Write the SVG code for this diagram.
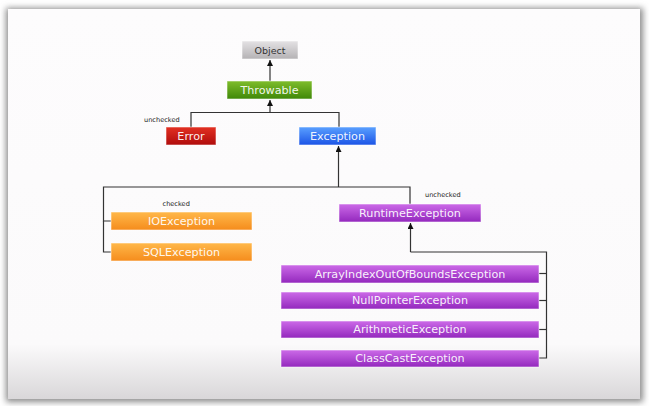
<svg xmlns="http://www.w3.org/2000/svg" width="649" height="406" viewBox="0 0 649 406">
  <defs>
    <linearGradient id="gCard" x1="0" y1="0" x2="0" y2="1">
      <stop offset="0" stop-color="#fdfcfd"/>
      <stop offset="0.86" stop-color="#fbfafb"/>
      <stop offset="1" stop-color="#d9d7d9"/>
    </linearGradient>
    <linearGradient id="gGrey" x1="0" y1="0" x2="0" y2="1">
      <stop offset="0" stop-color="#e4e2e4"/>
      <stop offset="1" stop-color="#b4b2b4"/>
    </linearGradient>
    <linearGradient id="gGreen" x1="0" y1="0" x2="0" y2="1">
      <stop offset="0" stop-color="#7fbd2c"/>
      <stop offset="1" stop-color="#3f8808"/>
    </linearGradient>
    <linearGradient id="gRed" x1="0" y1="0" x2="0" y2="1">
      <stop offset="0" stop-color="#e23022"/>
      <stop offset="1" stop-color="#b00c0c"/>
    </linearGradient>
    <linearGradient id="gBlue" x1="0" y1="0" x2="0" y2="1">
      <stop offset="0" stop-color="#5aa0ff"/>
      <stop offset="1" stop-color="#1c54e6"/>
    </linearGradient>
    <linearGradient id="gOrange" x1="0" y1="0" x2="0" y2="1">
      <stop offset="0" stop-color="#ffb84a"/>
      <stop offset="1" stop-color="#f58c1c"/>
    </linearGradient>
    <linearGradient id="gPurple" x1="0" y1="0" x2="0" y2="1">
      <stop offset="0" stop-color="#cc6ae8"/>
      <stop offset="1" stop-color="#9328bd"/>
    </linearGradient>
    <filter id="shadow" x="-5%" y="-5%" width="110%" height="110%">
      <feGaussianBlur stdDeviation="3"/>
    </filter>
    <marker id="arrow" viewBox="0 0 8 8" refX="8" refY="4" markerWidth="6" markerHeight="6" orient="auto" markerUnits="userSpaceOnUse">
      <path d="M0,0 L8,4 L0,8 z" fill="#111"/>
    </marker>
  </defs>
  <style>
    .box { stroke: #ffffff; stroke-opacity: 0.55; stroke-width: 1; }
    .lbl { font-family: "DejaVu Sans", Verdana, sans-serif; font-size: 11.2px; fill: #ffffff; fill-opacity: 0.93; text-anchor: middle; dominant-baseline: central; }
    .obj { font-family: "DejaVu Sans", Verdana, sans-serif; font-size: 9.5px; fill: #333333; text-anchor: middle; dominant-baseline: central; }
    .note { font-family: "DejaVu Sans", Verdana, sans-serif; font-size: 6.6px; fill: #222222; }
    .conn { fill: none; stroke: #333333; stroke-width: 1.2; }
  </style>

  <rect x="0" y="0" width="649" height="406" fill="#ffffff"/>
  <rect x="6" y="8" width="637" height="394" fill="#8a8a8a" filter="url(#shadow)"/>
  <rect x="8" y="9" width="632" height="390" fill="url(#gCard)"/>

  <g id="connectors">
    <path class="conn" d="M270,81 L270,60" marker-end="url(#arrow)"/>
    <path class="conn" d="M191,127 L191,112.5 L339,112.5 L339,127"/>
    <path class="conn" d="M270,112.5 L270,100" marker-end="url(#arrow)"/>
    <path class="conn" d="M338.5,187 L338.5,146" marker-end="url(#arrow)"/>
    <path class="conn" d="M111,221 L103.5,221 L103.5,187 L410,187 L410,204"/>
    <path class="conn" d="M103.5,221 L103.5,252 L111,252"/>
    <path class="conn" d="M410.5,252 L410.5,223" marker-end="url(#arrow)"/>
    <path class="conn" d="M410.5,252 L546.5,252 L546.5,358 L539,358"/>
    <path class="conn" d="M539,273.5 L546.5,273.5"/>
    <path class="conn" d="M539,300.5 L546.5,300.5"/>
    <path class="conn" d="M539,329.5 L546.5,329.5"/>
  </g>

  <g id="object">
    <rect class="box" x="242" y="41" width="56" height="18" fill="url(#gGrey)"/>
    <text class="obj" x="270" y="50">Object</text>
  </g>
  <g id="throwable">
    <rect class="box" x="227" y="81" width="85" height="18" fill="url(#gGreen)"/>
    <text class="lbl" x="269.5" y="90">Throwable</text>
  </g>
  <g id="error">
    <text class="note" x="144" y="121.5">unchecked</text>
    <rect class="box" x="166" y="127" width="50" height="18" fill="url(#gRed)"/>
    <text class="lbl" x="191" y="136">Error</text>
  </g>
  <g id="exception">
    <rect class="box" x="299" y="127" width="77" height="18" fill="url(#gBlue)"/>
    <text class="lbl" x="337.5" y="136">Exception</text>
  </g>
  <g id="ioexception">
    <text class="note" x="162.5" y="205.5">checked</text>
    <rect class="box" x="111" y="212" width="141" height="18" fill="url(#gOrange)"/>
    <text class="lbl" x="181.5" y="221">IOException</text>
  </g>
  <g id="sqlexception">
    <rect class="box" x="111" y="243" width="141" height="18" fill="url(#gOrange)"/>
    <text class="lbl" x="181.5" y="252">SQLException</text>
  </g>
  <g id="runtimeexception">
    <text class="note" x="425" y="196.5">unchecked</text>
    <rect class="box" x="339" y="204" width="142" height="18" fill="url(#gPurple)"/>
    <text class="lbl" x="410" y="213">RuntimeException</text>
  </g>
  <g id="arrayindex">
    <rect class="box" x="281" y="265" width="258" height="18" fill="url(#gPurple)"/>
    <text class="lbl" x="410" y="274">ArrayIndexOutOfBoundsException</text>
  </g>
  <g id="nullpointer">
    <rect class="box" x="281" y="292" width="258" height="17" fill="url(#gPurple)"/>
    <text class="lbl" x="410" y="300.5">NullPointerException</text>
  </g>
  <g id="arithmetic">
    <rect class="box" x="281" y="321" width="258" height="17" fill="url(#gPurple)"/>
    <text class="lbl" x="410" y="329.5">ArithmeticException</text>
  </g>
  <g id="classcast">
    <rect class="box" x="281" y="350" width="258" height="17" fill="url(#gPurple)"/>
    <text class="lbl" x="410" y="358.5">ClassCastException</text>
  </g>
</svg>
